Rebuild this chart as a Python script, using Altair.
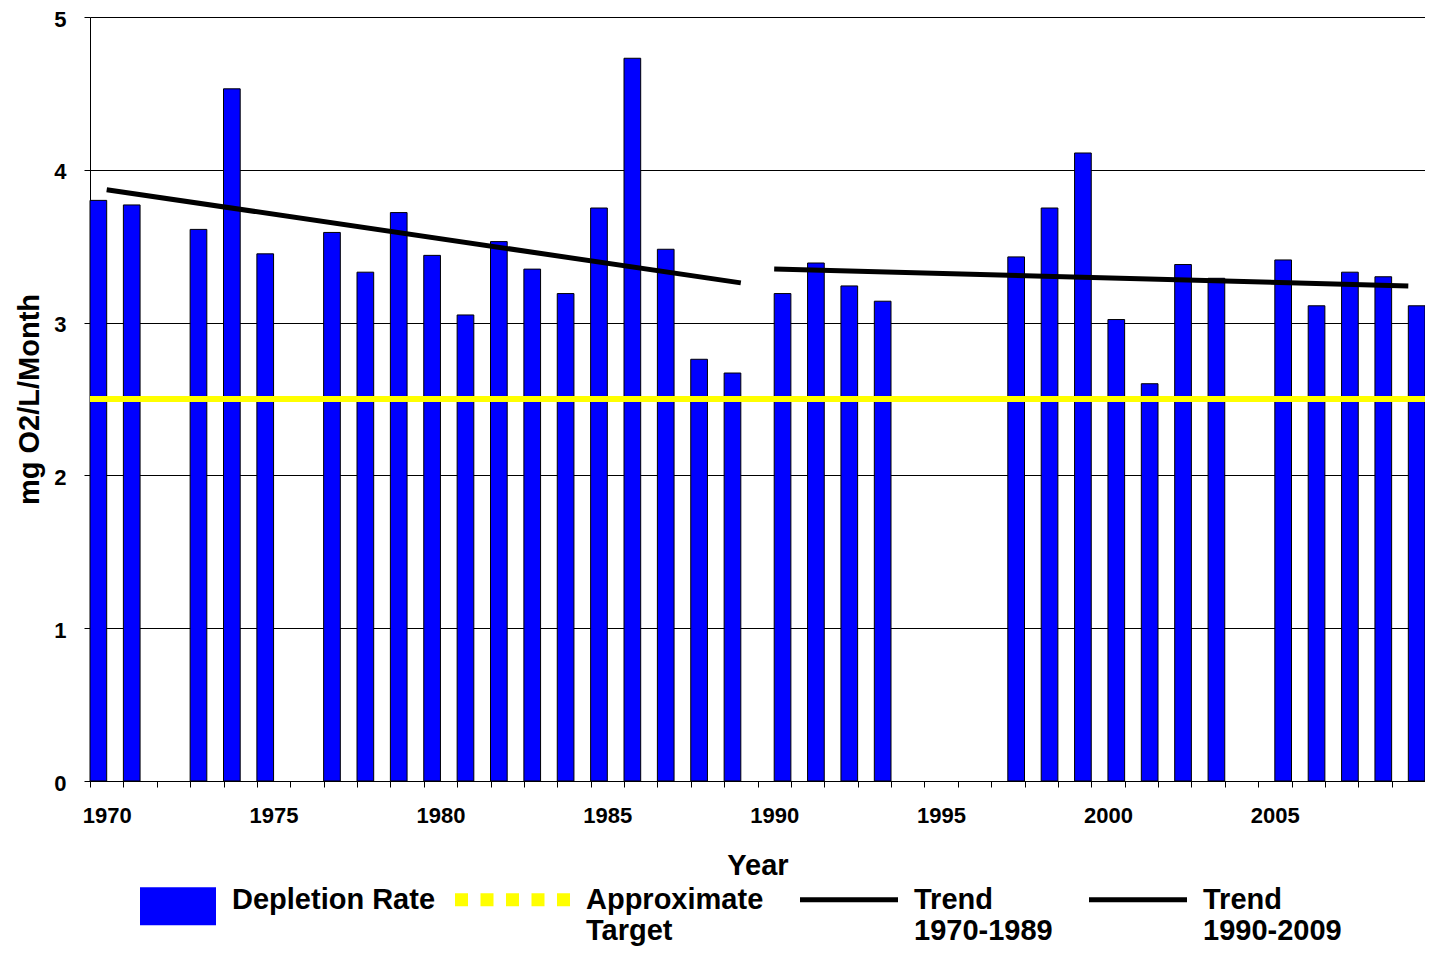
import altair as alt
import pandas as pd

# ---------------- data ----------------
years_1970_1989 = [1970, 1971, 1973, 1974, 1975, 1977, 1978, 1979, 1980, 1981,
                   1982, 1983, 1984, 1985, 1986, 1987, 1988, 1989]
rates_1970_1989 = [3.80, 3.77, 3.61, 4.53, 3.45, 3.59, 3.33, 3.72, 3.44, 3.05,
                   3.53, 3.35, 3.19, 3.75, 4.73, 3.48, 2.76, 2.67]

years_1990_2009 = [1990, 1991, 1992, 1993, 1997, 1998, 1999, 2000, 2001, 2002,
                   2003, 2005, 2006, 2007, 2008, 2009]
rates_1990_2009 = [3.19, 3.39, 3.24, 3.14, 3.43, 3.75, 4.11, 3.02, 2.60, 3.38,
                   3.29, 3.41, 3.11, 3.33, 3.30, 3.11]

periods = ["1970-1989", "1990-2009"]

trend_series = ["Trend 1970-1989", "Trend 1970-1989", "Trend 1990-2009", "Trend 1990-2009"]
trend_years = [1970, 1989, 1990, 2009]
trend_values = [3.87, 3.26, 3.35, 3.24]

target_value = [2.5]

all_years = list(range(1970, 2010))
y_ticks = [0, 1, 2, 3, 4, 5]

legend_items = ["Depletion Rate", "Approximate Target", "Trend 1970-1989", "Trend 1990-2009"]
legend_colors = ["#0000FF", "#FFFF00", "#000000", "#000000"]

# ---------------- tables ----------------
bars_df = pd.DataFrame({
    "year": years_1970_1989 + years_1990_2009,
    "rate": rates_1970_1989 + rates_1990_2009,
    "period": [periods[0]] * len(years_1970_1989) + [periods[1]] * len(years_1990_2009),
})
trend_df = pd.DataFrame({"series": trend_series, "year": trend_years, "value": trend_values})
target_df = pd.DataFrame({"value": target_value})
legend_df = pd.DataFrame({"item": legend_items})

# ---------------- legend symbol shapes (styling) ----------------
BOX = 115.0          # symbol box in px
U = BOX / 2.0        # px per unit
SHIFT = 0.0          # vertical shift of symbols (px)


def rect(x0, x1, y0, y1):
    x0, x1, y0, y1 = x0 / U, x1 / U, (y0 + SHIFT) / U, (y1 + SHIFT) / U
    return f"M{x0:.4f},{y0:.4f}L{x1:.4f},{y0:.4f}L{x1:.4f},{y1:.4f}L{x0:.4f},{y1:.4f}Z"


blue_path = rect(U - 76, U, -12.5, 25.5)
yellow_path = "".join(rect(-U + k * 25.5, -U + k * 25.5 + 13, -6.5, 6.5) for k in range(5))
trend_path = rect(U - 98, U, -2.5, 2.5)
legend_shapes = [blue_path, yellow_path, trend_path, trend_path]

FONT = "Liberation Sans"

x_scale = alt.Scale(domain=all_years, paddingInner=0, paddingOuter=0)
y_scale = alt.Scale(domain=[0, 5])

x_axis = alt.Axis(
    title="Year", labelExpr="datum.value % 5 == 0 ? datum.label : ''",
    labelAngle=0, tickBand="extent", tickSize=6, tickColor="black", tickWidth=1,
    domainColor="black", domainWidth=1, grid=False,
    labelFont=FONT, labelFontSize=22, labelFontWeight="bold", labelColor="black",
    labelPadding=18, labelBaseline="top",
    titleFont=FONT, titleFontSize=29, titleFontWeight="bold", titleColor="black",
    titleY=93, titleBaseline="alphabetic",
)
y_axis = alt.Axis(
    title="mg O2/L/Month", values=y_ticks, format="d",
    grid=True, gridColor="black", gridWidth=1, gridOpacity=1,
    domainColor="black", domainWidth=1, tickColor="black", tickSize=6, tickWidth=1,
    labelFont=FONT, labelFontSize=22, labelFontWeight="bold", labelColor="black",
    labelPadding=18, labelOffset=2,
    titleFont=FONT, titleFontSize=29, titleFontWeight="bold", titleColor="black",
    titleX=-52, titleY=382, titleAngle=270, titleBaseline="alphabetic", titleAlign="center",
)

bars = alt.Chart(bars_df).mark_bar(color="#0000FF", stroke="black", strokeWidth=1).encode(
    x=alt.X("year:O", scale=x_scale, axis=x_axis),
    xOffset=alt.XOffset("period:N", scale=alt.Scale(domain=periods, paddingInner=0, paddingOuter=0)),
    y=alt.Y("rate:Q", scale=y_scale, axis=y_axis),
)

target = alt.Chart(target_df).mark_rule(color="#FFFF00", strokeWidth=6).encode(
    y=alt.Y("value:Q", scale=y_scale)
)

trend = alt.Chart(trend_df).mark_line(color="black", strokeWidth=5).encode(
    x=alt.X("year:O", scale=x_scale),
    y=alt.Y("value:Q", scale=y_scale),
    detail="series:N",
)

leg = alt.Legend(
    title=None, orient="none", legendX=11, legendY=825, direction="horizontal", columns=4,
    padding=0, columnPadding=19, rowPadding=0,
    symbolSize=BOX * BOX, symbolOpacity=1, symbolStrokeWidth=0,
    labelFont=FONT, labelFontSize=29, labelFontWeight="bold", labelColor="black",
    labelOffset=16, labelLimit=0, labelBaseline="middle",
    labelExpr="datum.label == 'Depletion Rate' ? [datum.label, ''] : split(datum.label, ' ')",
)

legend_layer = alt.Chart(legend_df).mark_point(filled=True, opacity=0).encode(
    color=alt.Color("item:N", scale=alt.Scale(domain=legend_items, range=legend_colors), legend=leg),
    shape=alt.Shape("item:N", scale=alt.Scale(domain=legend_items, range=legend_shapes), legend=leg),
)

chart = alt.layer(bars, target, trend, legend_layer).properties(
    width=1335, height=764,
    autosize=alt.AutoSizeParams(type="none"),
    padding={"left": 82, "top": 9, "right": 0, "bottom": 166},
    background="white",
).configure_view(stroke=None).configure(style={"guide-label": {"lineHeight": 31}})

chart.save("out.html", embed_options={"renderer": "svg", "actions": False})
